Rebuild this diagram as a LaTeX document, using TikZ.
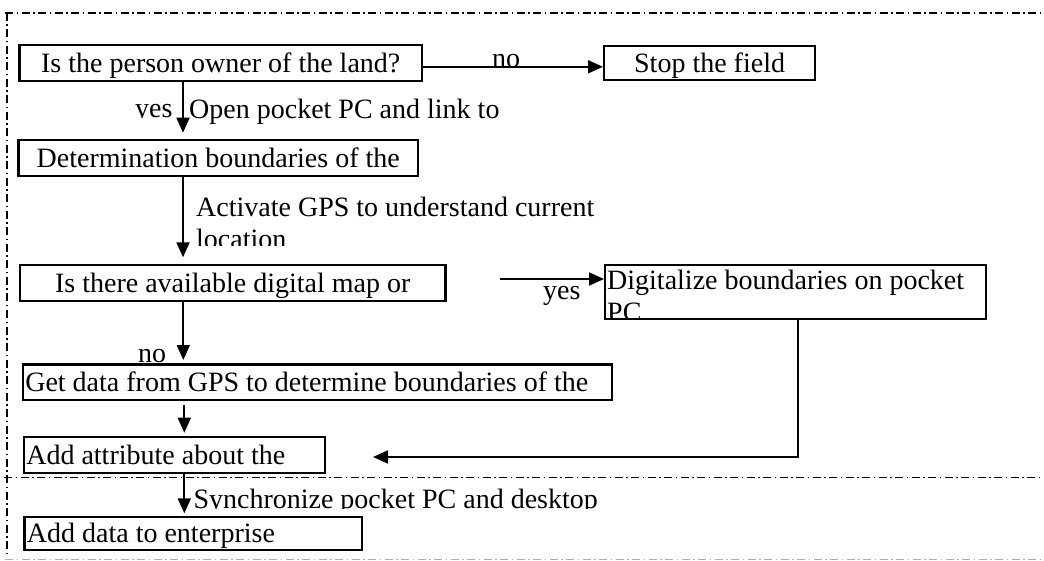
\documentclass[tikz,border=0pt]{standalone}
\usepackage{fontspec}
\setmainfont{Liberation Serif}
\usetikzlibrary{arrows.meta,calc}
\begin{document}
\begin{tikzpicture}[x=1pt,y=-1pt,
  font=\fontsize{28}{32}\selectfont,
  box/.style={draw, line width=2.2pt, inner sep=0pt, text height=22pt, text depth=3pt, anchor=north west},
  lbox/.style={box, inner xsep=2.5pt},
  arr/.style={line width=1.8pt, -{Triangle[length=15pt,width=13pt]}},
  lbl/.style={inner sep=0pt, anchor=base west},
  border/.style={line width=1.5pt, dash pattern=on 8pt off 3.5pt on 1.5pt off 3.5pt},
]
\useasboundingbox (0,0) rectangle (1044,561);

% frame lines
\draw[border] (5,13) -- (1044,13);
\draw[border] (7,13) -- (7,555);
\draw[border] (4,477.5) -- (1044,477.5);
\draw[border, color=black!32] (5,559.5) -- (1044,559.5);

% column coordinates
\coordinate (colA) at (183,0);
\coordinate (colB) at (184.3,0);
\coordinate (colD) at (798,0);

% labels
\begin{scope}
  \clip (100,90) rectangle (180,118);
  \node[lbl] (yes1) at (135,117.5) {yes};
\end{scope}
\node[lbl] (open) at (189,118.3) {Open pocket PC and link to};
\begin{scope}
  \clip (190,185) rectangle (720,245.5);
  \node[lbl] (act) at (196,216.7) {\parbox[t]{420pt}{\raggedright Activate GPS to understand current location}};
\end{scope}
\node[lbl] (no1) at (492,68) {no};
\node[lbl] (yes2) at (543,299.3) {yes};
\node[lbl] (no2) at (138,362.5) {no};
\begin{scope}
  \clip (190,480) rectangle (720,508.3);
  \node[lbl] (sync) at (193.3,508) {Synchronize pocket PC and desktop};
\end{scope}

% boxes
\node[box, minimum width=402.7pt, minimum height=36pt] (b1) at (18.3,44) {Is the person owner of the land?};
\node[box, minimum width=211pt, minimum height=34pt] (stop) at (603,45) {Stop the field};
\node[box, minimum width=399.7pt, minimum height=35.4pt] (b2) at (17.3,139.3) {Determination boundaries of the};
\node[box, minimum width=425.3pt, minimum height=36pt] (b3) at (19,264) {Is there available digital map or};
\node[box, minimum width=381pt, minimum height=53.7pt] (dig) at (604,264) {};
\begin{scope}
  \clip (dig.north west) rectangle (dig.south east);
  \node[lbl] (digtext) at (607,290) {\parbox[t]{370pt}{\raggedright Digitalize boundaries on pocket PC}};
\end{scope}
\node[lbox, minimum height=35.7pt] (b5) at (21.7,363.3) {\makebox[584.3pt][l]{Get data from GPS to determine boundaries of the}};
\node[lbox, minimum height=36pt] (b6) at (22.7,435.7) {\makebox[296.3pt][l]{Add attribute about the}};
\node[lbox, minimum height=32.7pt] (b7) at (23.3,516) {\makebox[332.4pt][l]{Add data to enterprise}};

% connectors
\draw[arr] ([yshift=-3.7pt]b1.east) -- ([yshift=-3.7pt]stop.west);
\draw[arr] (b1.south -| colA) -- ($(b2.north -| colA)+(0,-6.6)$);
\draw[arr] (b2.south -| colA) -- ($(b3.north -| colA)+(0,-6.7)$);
\draw[arr] ($(b3.south -| colA)+(0.3,0)$) -- ($(b5.north -| colA)+(0.3,-3.3)$);
\coordinate (ys) at (500,279);
\draw[arr] (ys) -- (ys -| dig.west);
\draw[arr] ($(b5.south -| colB)+(0,3.7)$) -- ($(b6.north -| colB)+(0,-3)$);
\draw[arr] (b6.south -| colB) -- ($(b7.north -| colB)+(0,-2.7)$);
\coordinate (ae) at (373,457);
\draw[arr] (dig.south -| colD) |- (ae);
\end{tikzpicture}
\end{document}
